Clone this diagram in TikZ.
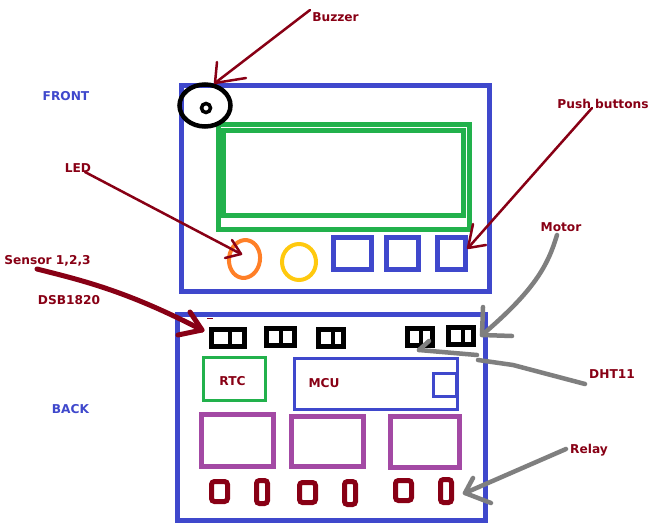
\documentclass[tikz,border=0pt]{standalone}
\usepackage{fontspec}
\setmainfont{DejaVu Sans}
\usetikzlibrary{shapes.geometric}
\definecolor{frameblue}{HTML}{3F48CC}
\definecolor{lcdgreen}{HTML}{22B14C}
\definecolor{darkred}{HTML}{880015}
\definecolor{relaypurple}{HTML}{A349A4}
\definecolor{ledorange}{HTML}{FF7F27}
\definecolor{ledyellow}{HTML}{FFC90E}
\definecolor{wiregray}{HTML}{7F7F7F}
\tikzset{
  x=1pt,y=-1pt,
  box/.style={rectangle,draw,fill=none,inner sep=0pt,outer sep=0pt},
  frame/.style={box,frameblue,line width=5pt},
  lcd/.style={box,lcdgreen,line width=5pt},
  btn/.style={box,frameblue,line width=5pt},
  thin blue/.style={box,frameblue,line width=3pt},
  relay/.style={box,relaypurple,line width=5pt},
  term/.style={box,black,line width=5pt},
  fuse/.style={box,darkred,line width=5pt,rounded corners=3pt},
  lab/.style={font=\bfseries\fontsize{12.2}{14}\selectfont,text=darkred,inner sep=0pt},
  side/.style={font=\bfseries\fontsize{12.2}{14}\selectfont,text=frameblue,inner sep=0pt},
  redline/.style={draw=darkred,line width=2.5pt,line cap=round,line join=round},
  redthick/.style={draw=darkred,line width=5pt,line cap=round,line join=round},
  greyline/.style={draw=wiregray,line width=4.5pt,line cap=round,line join=round},
}
\begin{document}
\begin{tikzpicture}
\useasboundingbox (0,0) rectangle (652,527);
\fill[white] (0,0) rectangle (652,527);
% Front
\node[frame,minimum width=308pt,minimum height=206pt] (front) at (335.5,188.5) {};
\node[lcd,minimum width=251pt,minimum height=105pt] (lcdouter) at (344,177) {};
\node[lcd,minimum width=240pt,minimum height=85pt] (lcdinner) at (343.5,173) {};
\node[ellipse,draw,line width=4.5pt,minimum width=51pt,minimum height=42pt,inner sep=0pt] (buzzer) at (205,105.5) {};
\node[circle,draw,line width=3.5pt,minimum size=9pt,inner sep=0pt] (buzzerdot) at (206,108) {};
\node[ellipse,draw=ledorange,line width=4pt,minimum width=31pt,minimum height=38pt,inner sep=0pt,rotate=-8] (ledA) at (244.5,259) {};
\node[ellipse,draw=ledyellow,line width=4pt,minimum width=34pt,minimum height=36pt,inner sep=0pt] (ledB) at (299,262) {};
\node[btn,minimum width=38pt,minimum height=32pt] (btnA) at (352.5,253.5) {};
\node[btn,minimum width=32pt,minimum height=32pt] (btnB) at (402.5,253.5) {};
\node[btn,minimum width=28pt,minimum height=32pt] (btnC) at (451.5,253.5) {};
% Back
\node[frame,minimum width=308pt,minimum height=206pt] (back) at (331.5,417.5) {};
\node[term,minimum width=33pt,minimum height=17pt] (termA) at (228,338) {};
\node[term,minimum width=28pt,minimum height=17pt] (termB) at (280.5,337) {};
\node[term,minimum width=25pt,minimum height=17pt] (termC) at (331,338) {};
\node[term,minimum width=25pt,minimum height=17pt] (termD) at (420,337) {};
\node[term,minimum width=25pt,minimum height=17pt] (termE) at (461,336) {};
\draw[black,line width=4pt] (termA.north) ++(2,0) -- ++(0,17);
\draw[black,line width=4pt] (termB.north) -- (termB.south);
\draw[black,line width=4pt] (termC.north) ++(2,0) -- ++(0,17);
\draw[black,line width=4pt] (termD.north) ++(1,0) -- ++(0,17);
\draw[black,line width=4pt] (termE.north) ++(2,0) -- ++(0,17);
\node[box,lcdgreen,line width=3pt,minimum width=62pt,minimum height=43pt] (rtc) at (234.5,379) {};
\node[lab] (lrtc) at (232.5,381) {RTC};
\node[thin blue,minimum width=163pt,minimum height=51pt] (mcu) at (376,384) {};
\node[lab] (lmcu) at (324,383) {MCU};
\node[thin blue,minimum width=23pt,minimum height=23pt] (chip) at (444.5,385) {};
\node[relay,minimum width=72pt,minimum height=52pt] (relayA) at (237.5,440.5) {};
\node[relay,minimum width=72pt,minimum height=50pt] (relayB) at (327.5,441.5) {};
\node[relay,minimum width=69pt,minimum height=51pt] (relayC) at (425,442) {};
\node[fuse,minimum width=16pt,minimum height=20pt] (fuA) at (219.5,491.5) {};
\node[fuse,minimum width=11pt,minimum height=23pt] (fuB) at (262,492) {};
\node[fuse,minimum width=16pt,minimum height=20pt] (fuC) at (307.5,492.5) {};
\node[fuse,minimum width=11pt,minimum height=23pt] (fuD) at (350,493) {};
\node[fuse,minimum width=16pt,minimum height=20pt] (fuE) at (403.5,490.5) {};
\node[fuse,minimum width=11pt,minimum height=23pt] (fuF) at (446,491) {};
\fill[darkred] (207,317.5) rectangle (213,319);
% Labels
\node[side] (lfront) at (66,96) {FRONT};
\node[side] (lback) at (70.5,409) {BACK};
\node[lab] (lbuzzer) at (335.5,17) {Buzzer};
\node[lab] (lled) at (78,168) {LED};
\node[lab] (lpush) at (603,103.5) {Push buttons};
\node[lab] (lsensor) at (47.5,260.5) {Sensor 1,2,3};
\node[lab] (ldsb) at (69,300) {DSB1820};
\node[lab] (lmotor) at (561,227.5) {Motor};
\node[lab] (ldht) at (612,374.5) {DHT11};
\node[lab] (lrelay) at (589,450.5) {Relay};
% Tips and tails
\coordinate (tBuz) at (215,83);
\coordinate (tLed) at (241,254);
\coordinate (tPush) at (468,248);
\coordinate (tSens) at (202,330);
\coordinate (tMot) at (482,335);
\coordinate (tDht) at (419,350);
\coordinate (tRel) at (465,493);
\coordinate (sBuz) at (310,10);
\coordinate (sLed) at (85,172);
\coordinate (sPush) at (592,108);
\coordinate (sSens) at (37,269);
\coordinate (sMot) at (557,235);
\coordinate (sDht) at (585,384);
\coordinate (sRel) at (566,449);
% Arrows
\draw[redline] (sBuz) -- (tBuz);
\draw[redline] (217,62) -- (tBuz) -- (246,78);
\draw[redline] (sLed) -- (tLed);
\draw[redline] (232,240) -- (tLed) -- (225,258);
\draw[redline] (sPush) -- (tPush);
\draw[redline] (473,224) -- (tPush) -- (486,245);
\draw[redthick] (sSens) .. controls (80,280) and (125,290) .. (tSens);
\draw[redthick] (190,312) -- (tSens) -- (178,335);
\draw[greyline] (sMot) .. controls (548,265) and (535,290) .. (tMot);
\draw[greyline] (483,307) -- (tMot) -- (512,336);
\draw[greyline] (sDht) -- (513,365) -- (478,360);
\draw[greyline] (477,355) -- (tDht);
\draw[greyline] (429,341) -- (tDht);
\draw[greyline] (sRel) -- (tRel);
\draw[greyline] (473,478) -- (tRel) -- (491,503);
\end{tikzpicture}
\end{document}
